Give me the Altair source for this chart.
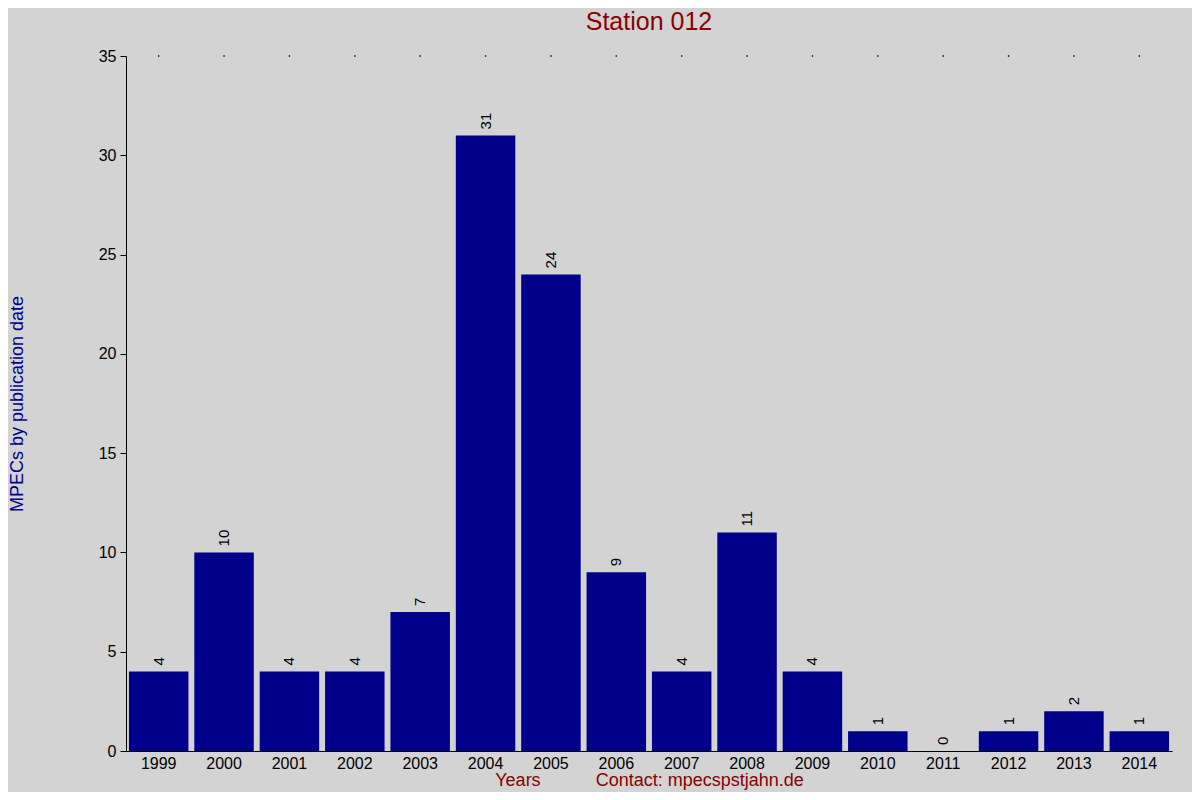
import altair as alt
import pandas as pd

years = [str(y) for y in range(1999, 2015)]
counts = [4, 10, 4, 4, 7, 31, 24, 9, 4, 11, 4, 1, 0, 1, 2, 1]

df = pd.DataFrame({"year": years, "count": counts, "top": [35] * len(years)})

FONT = "Liberation Sans"
NB = "\u00a0"
xtitle = "Years" + NB * 11 + "Contact: mpecspstjahn.de"

xenc = alt.X(
    "year:N",
    sort=years,
    scale=alt.Scale(paddingInner=0.09, paddingOuter=0.045),
    axis=alt.Axis(
        title=xtitle, labelAngle=0, ticks=False, domainColor="black",
        labelFontSize=16, labelColor="black", labelFont=FONT, labelPadding=4,
        titleColor="#8b0000", titleFont=FONT, titleFontSize=18,
        titleFontWeight="normal", titlePadding=0,
    ),
)
yscale = alt.Scale(domain=[0, 35], nice=False)

bars = alt.Chart(df).mark_bar(color="#00008b").encode(
    x=xenc,
    y=alt.Y(
        "count:Q", scale=yscale,
        axis=alt.Axis(
            values=[0, 5, 10, 15, 20, 25, 30, 35], grid=False,
            title="MPECs by publication date", domainColor="black",
            tickColor="black", tickSize=6, labelFontSize=16, labelColor="black",
            labelFont=FONT, labelPadding=4, titleColor="#00008b", titleFont=FONT,
            titleFontSize=18, titleFontWeight="normal", titlePadding=72,
        ),
    ),
)

labels = alt.Chart(df).mark_text(
    angle=270, align="left", baseline="middle", dx=6, fontSize=15,
    font=FONT, color="black",
).encode(x=alt.X("year:N", sort=years), y=alt.Y("count:Q", scale=yscale), text="count:Q")

dots = alt.Chart(df).mark_square(size=2, color="black", opacity=1).encode(
    x=alt.X("year:N", sort=years), y=alt.Y("top:Q", scale=yscale)
)

chart = alt.layer(bars, labels, dots).properties(
    width=1046, height=695,
    background="#d3d3d3",
    autosize=alt.AutoSizeParams(type="none"),
    padding={"left": 118, "top": 48, "right": 20, "bottom": 41},
    title=alt.TitleParams(
        "Station 012", color="#8b0000", font=FONT, fontSize=25,
        fontWeight="normal", anchor="middle", offset=13,
    ),
).configure_view(stroke=None)

chart.save("out.html", embed_options={"renderer": "svg", "actions": False})
